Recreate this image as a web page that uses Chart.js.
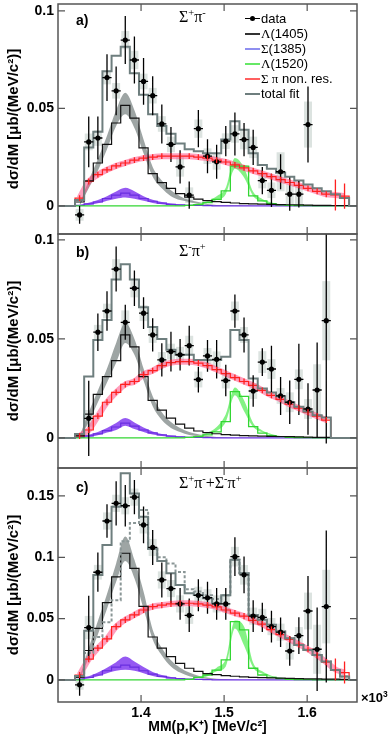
<!DOCTYPE html>
<html>
<head>
<meta charset="utf-8">
<script src="https://cdn.jsdelivr.net/npm/chart.js@4.4.1/dist/chart.umd.min.js"></script>
<style>
  body { margin: 0; width: 391px; height: 738px; position: relative; overflow: hidden; background: #fff;
         font-family: "Liberation Sans", Arial, Helvetica, sans-serif; }
  canvas { position: absolute; left: 0; }
  sup { font-size: 0.65em; line-height: 0; vertical-align: 0.55em; }
  .pl { position: absolute; left: 76px; font-weight: bold; font-size: 14px; line-height: 16px; }
  .ch { position: absolute; left: 179px; font-family: "Liberation Serif", "Times New Roman", serif; font-size: 16px; line-height: 18px; }
  .leg { position: absolute; left: 245px; top: 11px; font-size: 13px; }
  .row { display: flex; align-items: center; height: 15px; white-space: nowrap; }
  .smp { width: 15px; height: 0; border-top: 2px solid; margin-right: 1px; position: relative; }
  .dot { position: absolute; left: 5px; top: -3.5px; width: 5px; height: 5px; border-radius: 50%; background: #000; }
  .g { font-family: "Liberation Serif", "Times New Roman", serif; }
  .x3 { position: absolute; left: 361px; top: 690px; font-weight: bold; font-size: 13px; }
</style>
</head>
<body>
<canvas id="pa" width="391" height="240" style="top:0"></canvas>
<canvas id="pb" width="391" height="246" style="top:228px"></canvas>
<canvas id="pc" width="391" height="276" style="top:462px"></canvas>

<div class="pl" style="top:12px">a)</div>
<div class="pl" style="top:244px">b)</div>
<div class="pl" style="top:479px">c)</div>
<div class="ch" style="top:8px">Σ<sup>+</sup>π<sup>-</sup></div>
<div class="ch" style="top:242px">Σ<sup>-</sup>π<sup>+</sup></div>
<div class="ch" style="top:474px">Σ<sup>+</sup>π<sup>-</sup>+Σ<sup>-</sup>π<sup>+</sup></div>

<div class="leg">
  <div class="row"><span class="smp" style="border-top:1px solid #000"><span class="dot"></span></span>data</div>
  <div class="row"><span class="smp" style="border-color:#333"></span><span class="g">Λ</span>(1405)</div>
  <div class="row"><span class="smp" style="border-color:#8f8ff0"></span><span class="g">Σ</span>(1385)</div>
  <div class="row"><span class="smp" style="border-color:#66e866"></span><span class="g">Λ</span>(1520)</div>
  <div class="row"><span class="smp" style="border-color:#ff6060"></span><span class="g">Σ π</span>&nbsp;non. res.</div>
  <div class="row"><span class="smp" style="border-color:#6e7e7e"></span>total fit</div>
</div>
<div class="x3">×10<sup>3</sup></div>

<script>
const FONT = "'Liberation Sans', Arial, Helvetica, sans-serif";

/* ---------------- DATA ---------------- */

// bin centres, MM(p,K+) in units of 10^3 MeV/c^2
const BINS = [1.326, 1.337, 1.348, 1.359, 1.370, 1.381, 1.392, 1.403, 1.414, 1.425,
  1.436, 1.447, 1.458, 1.469, 1.480, 1.491, 1.502, 1.513, 1.524, 1.535,
  1.546, 1.557, 1.568, 1.579, 1.590, 1.601, 1.612, 1.623, 1.634, 1.645];
const X_TICKS = [1.4, 1.5, 1.6];
const Y_TICKS_AB = [0, 0.05, 0.1];
const Y_TICKS_C = [0, 0.05, 0.1, 0.15];

// a) Sigma+ pi-
const A_DATA = [-0.0046, 0.0328, 0.0348, 0.0658, 0.059, 0.085, 0.0748, 0.0638, 0.0565, 0.042,
  0.0315, 0.020, 0.0055, 0.0396, 0.0255, 0.0226, 0.0332, 0.0369, 0.034, 0.030,
  0.013, 0.008, 0.0175, 0.006, 0.006, 0.0417, null, null, null, null];
const A_ERR = [0.0045, 0.013, 0.011, 0.012, 0.0125, 0.0123, 0.012, 0.012, 0.010, 0.010,
  0.009, 0.0085, 0.007, 0.0095, 0.0087, 0.0087, 0.0077, 0.011, 0.0085, 0.009,
  0.007, 0.0085, 0.009, 0.0085, 0.0068, 0.0195, null, null, null, null];
const A_SYS = [0.003, 0.0043, 0.004, 0.0035, 0.004, 0.0047, 0.0047, 0.004, 0.004, 0.004,
  0.004, 0.005, 0.004, 0.0047, 0.004, 0.004, 0.004, 0.0045, 0.005, 0.0055,
  0.004, 0.004, 0.010, 0.005, 0.005, 0.0118, null, null, null, null];
const A_TOTAL = [0.003, 0.030, 0.038, 0.069, 0.077, 0.0816, 0.068, 0.057, 0.047, 0.041,
  0.037, 0.032, 0.029, 0.028, 0.027, 0.027, 0.034, 0.0434, 0.039, 0.027,
  0.021, 0.019, 0.017, 0.015, 0.013, 0.011, 0.009, 0.0075, 0.006, 0.004];
const A_L1405 = [0.002, 0.0128, 0.022, 0.0315, 0.0425, 0.0515, 0.045, 0.0297, 0.0165, 0.0119,
  0.009, 0.0063, 0.0045, 0.0035, 0.0027, 0.0022, 0.0018, 0.0015, 0.0012, 0.001,
  0.0009, 0.0008, 0.0007, 0.0006, 0.0005, 0.0004, 0.0003, 0.0003, 0.0002, 0.0002];
const A_L1405_LO = [0, 0.009, 0.018, 0.029, 0.041, 0.047, 0.040, 0.027, 0.015, 0.009,
  0.005, 0.003, 0.002, 0.001, 0.0005, 0, 0, 0, 0, 0,
  0, 0, 0, 0, 0, 0, 0, 0, 0, 0];
const A_L1405_HI = [0.001, 0.013, 0.024, 0.036, 0.049, 0.058, 0.049, 0.034, 0.020, 0.013,
  0.008, 0.005, 0.003, 0.002, 0.001, 0.0005, 0.0003, 0.0002, 0.0001, 0,
  0, 0, 0, 0, 0, 0, 0, 0, 0, 0];
const A_NR = [0.004, 0.0125, 0.016, 0.0185, 0.0205, 0.022, 0.0235, 0.0245, 0.025, 0.0255,
  0.0255, 0.0255, 0.0255, 0.025, 0.0245, 0.0235, 0.0225, 0.021, 0.0195, 0.018,
  0.0165, 0.015, 0.0135, 0.012, 0.0105, 0.009, 0.0075, 0.006, 0.0056, 0.005];
const A_NR_ERR = [0.0015, 0.0015, 0.0015, 0.0015, 0.0015, 0.0015, 0.0015, 0.0015, 0.0015, 0.0015,
  0.0015, 0.0015, 0.0015, 0.0015, 0.0015, 0.0015, 0.0015, 0.0015, 0.0015, 0.0015,
  0.0015, 0.0015, 0.0015, 0.0015, 0.0015, 0.0015, 0.0015, 0.0015, 0.008, 0.0065];
const A_S1385 = [0.0003, 0.001, 0.002, 0.0038, 0.0055, 0.0066, 0.0055, 0.0038, 0.0024, 0.0014,
  0.0008, 0.0005, 0.0003, 0.0002, 0.0001, 0, 0, 0, 0, 0,
  0, 0, 0, 0, 0, 0, 0, 0, 0, 0];
const A_S1385_LO = [0, 0.0005, 0.0013, 0.0027, 0.0037, 0.0043, 0.0037, 0.0026, 0.0015, 0.0008,
  0.0004, 0.0002, 0.0001, 0, 0, 0, 0, 0, 0, 0,
  0, 0, 0, 0, 0, 0, 0, 0, 0, 0];
const A_S1385_HI = [0.0005, 0.0016, 0.003, 0.005, 0.0074, 0.0093, 0.0075, 0.005, 0.0032, 0.002,
  0.0012, 0.0007, 0.0004, 0.0002, 0.0001, 0, 0, 0, 0, 0,
  0, 0, 0, 0, 0, 0, 0, 0, 0, 0];
const A_L1520 = [0, 0, 0, 0, 0, 0, 0, 0, 0, 0,
  0, 0, 0.0003, 0.0007, 0.0017, 0.0034, 0.0077, 0.0204, 0.0204, 0.0051,
  0.0026, 0.0012, 0.0006, 0.0003, 0.0002, 0.0001, 0, 0, 0, 0];
const A_L1520_LO = [0, 0, 0, 0, 0, 0, 0, 0, 0, 0,
  0, 0, 0.0002, 0.0007, 0.0015, 0.003, 0.006, 0.019, 0.0145, 0.005,
  0.0024, 0.001, 0.0005, 0.0002, 0.0001, 0, 0, 0, 0, 0];
const A_L1520_HI = [0, 0, 0, 0, 0, 0, 0, 0, 0, 0,
  0.0001, 0.0002, 0.0005, 0.0012, 0.0025, 0.005, 0.0093, 0.0246, 0.0196, 0.0072,
  0.0035, 0.0018, 0.0009, 0.0005, 0.0003, 0.0001, 0, 0, 0, 0];

// b) Sigma- pi+
const B_DATA = [null, 0.0099, 0.0534, 0.0641, 0.0853, 0.0584, 0.0756, 0.063, 0.052, 0.0394,
  0.0436, 0.042, 0.0466, 0.0295, 0.0414, 0.0397, 0.029, 0.0641, 0.052, 0.0237,
  0.0383, 0.0348, 0.0212, 0.018, 0.0296, 0.0146, 0.0242, 0.0592, null, null];
const B_ERR = [null, 0.019, 0.0095, 0.010, 0.0114, 0.0088, 0.009, 0.008, 0.0084, 0.0084,
  0.010, 0.008, 0.010, 0.0065, 0.008, 0.0097, 0.008, 0.0084, 0.0088, 0.008,
  0.007, 0.0117, 0.0096, 0.011, 0.018, 0.013, 0.024, 0.062, null, null];
const B_SYS = [null, 0.0042, 0.0037, 0.0037, 0.005, 0.006, 0.0046, 0.004, 0.004, 0.004,
  0.004, 0.004, 0.005, 0.004, 0.004, 0.004, 0.004, 0.0048, 0.004, 0.004,
  0.0055, 0.005, 0.004, 0.005, 0.005, 0.005, 0.013, 0.02, null, null];
const B_TOTAL = [0.002, 0.031, 0.0495, 0.0596, 0.080, 0.0877, 0.080, 0.066, 0.056, 0.050,
  0.0445, 0.042, 0.042, 0.0394, 0.0394, 0.0394, 0.041, 0.0545, 0.0495, 0.030,
  0.025, 0.023, 0.021, 0.018, 0.0158, 0.0133, 0.0115, 0.0103, null, null];
const B_L1405 = [0.001, 0.012, 0.022, 0.031, 0.039, 0.052, 0.046, 0.031, 0.019, 0.014,
  0.010, 0.007, 0.0049, 0.0035, 0.0027, 0.0021, 0.0017, 0.0014, 0.0012, 0.001,
  0.0009, 0.0008, 0.0007, 0.0006, 0.0005, 0.0004, 0.0003, 0.0003, null, null];
const B_L1405_LO = [0, 0.008, 0.018, 0.028, 0.038, 0.048, 0.042, 0.029, 0.016, 0.009,
  0.005, 0.003, 0.0015, 0.0008, 0.0003, 0, 0, 0, 0, 0,
  0, 0, 0, 0, 0, 0, 0, 0, null, null];
const B_L1405_HI = [0.001, 0.013, 0.024, 0.035, 0.048, 0.058, 0.050, 0.035, 0.021, 0.013,
  0.008, 0.005, 0.003, 0.0018, 0.001, 0.0005, 0.0002, 0, 0, 0,
  0, 0, 0, 0, 0, 0, 0, 0, null, null];
const B_NR = [0.001, 0.004, 0.011, 0.018, 0.023, 0.027, 0.0285, 0.032, 0.034, 0.0365,
  0.038, 0.0385, 0.0385, 0.0378, 0.0365, 0.0345, 0.0325, 0.0305, 0.0285, 0.0265,
  0.024, 0.0215, 0.0195, 0.017, 0.015, 0.013, 0.011, 0.009, null, null];
const B_NR_ERR = [0.0015, 0.0015, 0.0015, 0.0015, 0.0015, 0.0015, 0.0015, 0.0015, 0.0015, 0.0015,
  0.0015, 0.0015, 0.0015, 0.0015, 0.0015, 0.0015, 0.0015, 0.0015, 0.0015, 0.0015,
  0.0015, 0.0015, 0.0015, 0.0015, 0.0015, 0.0015, 0.0015, 0.0015, null, null];
const B_S1385 = [0.0003, 0.001, 0.002, 0.0037, 0.0055, 0.0075, 0.006, 0.004, 0.0025, 0.0015,
  0.0009, 0.0005, 0.0003, 0.0002, 0.0001, 0, 0, 0, 0, 0,
  0, 0, 0, 0, 0, 0, 0, 0, null, null];
const B_S1385_LO = [0, 0.0005, 0.0013, 0.0027, 0.004, 0.0062, 0.0045, 0.003, 0.0017, 0.001,
  0.0005, 0.0002, 0.0001, 0, 0, 0, 0, 0, 0, 0,
  0, 0, 0, 0, 0, 0, 0, 0, null, null];
const B_S1385_HI = [0.0005, 0.0016, 0.003, 0.005, 0.0075, 0.010, 0.0078, 0.0052, 0.0033, 0.002,
  0.0012, 0.0007, 0.0004, 0.0002, 0.0001, 0, 0, 0, 0, 0,
  0, 0, 0, 0, 0, 0, 0, 0, null, null];
const B_L1520 = [0, 0, 0, 0, 0, 0, 0, 0, 0, 0,
  0, 0, 0.0003, 0.0006, 0.0015, 0.003, 0.0082, 0.0234, 0.021, 0.0057,
  0.0024, 0.0012, 0.0006, 0.0003, 0.0002, 0.0001, 0, 0, null, null];
const B_L1520_LO = [0, 0, 0, 0, 0, 0, 0, 0, 0, 0,
  0, 0, 0.0002, 0.0008, 0.0017, 0.0035, 0.008, 0.0215, 0.0135, 0.0055,
  0.0028, 0.0012, 0.0006, 0.0003, 0.0001, 0, 0, 0, null, null];
const B_L1520_HI = [0, 0, 0, 0, 0, 0, 0, 0, 0, 0,
  0.0001, 0.0002, 0.0005, 0.0012, 0.0027, 0.0055, 0.012, 0.0255, 0.019, 0.0075,
  0.0038, 0.002, 0.001, 0.0005, 0.0003, 0.0001, 0, 0, null, null];

// c) Sigma+ pi- + Sigma- pi+
const C_DATA = [-0.004, 0.0427, 0.0878, 0.1296, 0.144, 0.142, 0.149, 0.1264, 0.108, 0.0815,
  0.0745, 0.062, 0.0527, 0.069, 0.067, 0.062, 0.062, 0.1005, 0.0857, 0.052,
  0.051, 0.0435, 0.0389, 0.0236, 0.0361, 0.0562, 0.025, 0.0598, null, null];
const C_ERR = [0.009, 0.026, 0.016, 0.0136, 0.018, 0.017, 0.014, 0.015, 0.0143, 0.0143,
  0.0122, 0.013, 0.0136, 0.013, 0.013, 0.013, 0.013, 0.0158, 0.015, 0.013,
  0.012, 0.013, 0.012, 0.012, 0.015, 0.0285, 0.034, 0.062, null, null];
const C_SYS = [0.004, 0.0095, 0.006, 0.007, 0.007, 0.007, 0.007, 0.007, 0.007, 0.007,
  0.007, 0.007, 0.007, 0.007, 0.007, 0.007, 0.007, 0.008, 0.008, 0.007,
  0.007, 0.007, 0.007, 0.007, 0.007, 0.015, 0.02, 0.03, null, null];
const C_TOTAL = [0.0033, 0.040, 0.0856, 0.110, 0.1413, 0.1685, 0.152, 0.133, 0.107, 0.097,
  0.087, 0.0775, 0.0707, 0.0693, 0.0666, 0.0625, 0.069, 0.098, 0.087, 0.053,
  0.049, 0.045, 0.0394, 0.034, 0.0285, 0.0245, 0.0204, 0.015, 0.008, 0.0027];
const C_DASHED = [0.003, 0.022, 0.035, 0.047, 0.065, 0.113, 0.128, 0.1386, 0.107, 0.100,
  0.095, 0.088, 0.074, 0.072, 0.069, 0.066, 0.069, 0.098, 0.087, 0.053,
  0.049, 0.045, 0.0394, 0.034, 0.0285, 0.0245, 0.0204, 0.015, 0.008, 0.0027];
const C_L1405 = [0.002, 0.024, 0.042, 0.063, 0.084, 0.1033, 0.091, 0.060, 0.035, 0.026,
  0.019, 0.0135, 0.0095, 0.007, 0.0052, 0.0043, 0.0035, 0.003, 0.0025, 0.002,
  0.0018, 0.0016, 0.0014, 0.0012, 0.001, 0.0009, 0.0008, 0.0007, 0.0006, 0.0005];
const C_L1405_LO = [0, 0.018, 0.037, 0.058, 0.080, 0.097, 0.083, 0.058, 0.033, 0.020,
  0.011, 0.006, 0.003, 0.0015, 0.0008, 0.0003, 0, 0, 0, 0,
  0, 0, 0, 0, 0, 0, 0, 0, 0, 0];
const C_L1405_HI = [0.002, 0.026, 0.048, 0.070, 0.095, 0.117, 0.098, 0.072, 0.041, 0.026,
  0.016, 0.010, 0.006, 0.0035, 0.002, 0.001, 0.0005, 0.0002, 0, 0,
  0, 0, 0, 0, 0, 0, 0, 0, 0, 0];
const C_NR = [0.004, 0.017, 0.026, 0.0335, 0.0435, 0.049, 0.053, 0.057, 0.0598, 0.061,
  0.062, 0.0625, 0.0625, 0.062, 0.061, 0.0595, 0.057, 0.0545, 0.052, 0.0485,
  0.0455, 0.041, 0.037, 0.033, 0.029, 0.025, 0.020, 0.0145, 0.0085, 0.006];
const C_NR_ERR = [0.0025, 0.0025, 0.0025, 0.0025, 0.0025, 0.0025, 0.0025, 0.0025, 0.0025, 0.0025,
  0.0025, 0.0025, 0.0025, 0.0025, 0.0025, 0.0025, 0.0025, 0.0025, 0.0025, 0.0025,
  0.0025, 0.0025, 0.0025, 0.0025, 0.0025, 0.0025, 0.0025, 0.0025, 0.009, 0.009];
const C_S1385 = [0.0005, 0.002, 0.004, 0.0075, 0.0105, 0.012, 0.0105, 0.0075, 0.0048, 0.0029,
  0.0017, 0.001, 0.0006, 0.0004, 0.0002, 0.0001, 0, 0, 0, 0,
  0, 0, 0, 0, 0, 0, 0, 0, 0, 0];
const C_S1385_LO = [0, 0.0012, 0.003, 0.0055, 0.0075, 0.0082, 0.0075, 0.0055, 0.0033, 0.002,
  0.001, 0.0005, 0.0002, 0.0001, 0, 0, 0, 0, 0, 0,
  0, 0, 0, 0, 0, 0, 0, 0, 0, 0];
const C_S1385_HI = [0.001, 0.003, 0.006, 0.010, 0.0145, 0.019, 0.015, 0.0105, 0.0065, 0.004,
  0.0024, 0.0014, 0.0008, 0.0004, 0.0002, 0.0001, 0, 0, 0, 0,
  0, 0, 0, 0, 0, 0, 0, 0, 0, 0];
const C_L1520 = [0, 0, 0, 0, 0, 0, 0, 0, 0, 0,
  0, 0, 0.0005, 0.002, 0.004, 0.008, 0.0163, 0.0476, 0.0408, 0.0095,
  0.004, 0.002, 0.001, 0.0005, 0.0003, 0.0002, 0.0001, 0, 0, 0];
const C_L1520_LO = [0, 0, 0, 0, 0, 0, 0, 0, 0, 0,
  0, 0.0001, 0.0004, 0.0015, 0.003, 0.007, 0.011, 0.042, 0.028, 0.010,
  0.005, 0.0025, 0.0012, 0.0006, 0.0003, 0.0001, 0, 0, 0, 0];
const C_L1520_HI = [0, 0, 0, 0, 0, 0, 0, 0, 0, 0,
  0.0001, 0.0003, 0.0008, 0.0025, 0.005, 0.010, 0.017, 0.0485, 0.0435, 0.014,
  0.007, 0.0035, 0.002, 0.001, 0.0005, 0.0002, 0.0001, 0, 0, 0];

/* ---------------- STYLE ---------------- */

const X_MIN = 1.3, X_MAX = 1.66;
const HALF = 0.0055;       // half bin width
const SYS_HALF = 0.0048;   // half width of systematic boxes
const TICK = 7;            // inward tick length, px

const COL = {
  total: "#6e7e7e",
  dashed: "#8a9696",
  l1405: "#111111",
  l1405Band: "rgba(125,135,133,0.75)",
  nr: "#ff2020",
  nrBand: "rgba(255,80,135,0.55)",
  s1385: "#6a2fe0",
  s1385Band: "rgba(130,60,240,0.85)",
  l1520: "#33d633",
  l1520Band: "rgba(110,240,110,0.85)",
  sys: "#dce3e0",
  frame: "#555"
};

/* ---------------- HELPERS ---------------- */

function pts(vals) {
  return BINS.map((x, i) => ({ x, y: vals[i] })).filter(p => p.y != null);
}

// histogram drawn as a step line over bin edges
function stepLine(vals, color, width, order, dash, extend) {
  let last = vals.length - 1;
  while (vals[last] == null) last--;
  const data = [];
  if (extend) data.push({ x: X_MIN, y: 0 });
  data.push({ x: BINS[0] - HALF, y: 0 });
  for (let i = 0; i <= last; i++) data.push({ x: BINS[i] - HALF, y: vals[i] });
  data.push({ x: BINS[last] + HALF, y: vals[last] });
  data.push({ x: BINS[last] + HALF, y: 0 });
  if (extend) data.push({ x: X_MAX, y: 0 });
  return { data, stepped: true, borderColor: color, borderWidth: width, borderDash: dash || [],
           pointRadius: 0, fill: false, order };
}

function band(lo, hi, color, order) {
  return [
    { data: pts(lo), borderColor: "transparent", borderWidth: 0, pointRadius: 0, fill: false,
      cubicInterpolationMode: "monotone", order },
    { data: pts(hi), borderColor: "transparent", borderWidth: 0, pointRadius: 0, fill: "-1",
      backgroundColor: color, cubicInterpolationMode: "monotone", order }
  ];
}

function dataPoints(vals, errs, sys) {
  return {
    data: BINS.map((x, i) => ({ x, y: vals[i], e: errs[i], s: sys[i] })).filter(p => p.y != null),
    showLine: false, pointRadius: 2.6, pointBackgroundColor: "#000", pointBorderWidth: 0,
    errBars: true, hBar: HALF, errColor: "#000", errWidth: 1.3, sysBoxes: true, order: 0
  };
}

function errTicks(vals, errs, color) {
  return {
    data: BINS.map((x, i) => ({ x, y: vals[i], e: errs[i] })).filter(p => p.y != null),
    showLine: false, pointRadius: 0, errBars: true, errColor: color, errWidth: 1.3, order: 3
  };
}

/* ---------------- PLUGINS ---------------- */

const errorBarPlugin = {
  id: "errorBars",
  beforeDatasetsDraw(chart) {
    const { ctx, chartArea: a, scales: { x, y } } = chart;
    ctx.save();
    ctx.beginPath(); ctx.rect(a.left, a.top, a.width, a.height); ctx.clip();
    ctx.fillStyle = COL.sys;
    chart.data.datasets.forEach(ds => {
      if (!ds.sysBoxes) return;
      ds.data.forEach(p => {
        if (p.s == null) return;
        const x0 = x.getPixelForValue(p.x - SYS_HALF), x1 = x.getPixelForValue(p.x + SYS_HALF);
        const y0 = y.getPixelForValue(p.y + p.s), y1 = y.getPixelForValue(p.y - p.s);
        ctx.fillRect(x0, y0, x1 - x0, y1 - y0);
      });
    });
    ctx.restore();
  },
  afterDatasetsDraw(chart) {
    const { ctx, chartArea: a, scales: { x, y } } = chart;
    ctx.save();
    ctx.beginPath(); ctx.rect(a.left, a.top, a.width, a.height); ctx.clip();
    chart.data.datasets.forEach(ds => {
      if (!ds.errBars) return;
      ctx.strokeStyle = ds.errColor;
      ctx.lineWidth = ds.errWidth;
      ctx.beginPath();
      ds.data.forEach(p => {
        if (p.e == null) return;
        const px = x.getPixelForValue(p.x);
        ctx.moveTo(px, y.getPixelForValue(p.y + p.e));
        ctx.lineTo(px, y.getPixelForValue(p.y - p.e));
        if (ds.hBar) {
          const py = y.getPixelForValue(p.y);
          ctx.moveTo(x.getPixelForValue(p.x - ds.hBar), py);
          ctx.lineTo(x.getPixelForValue(p.x + ds.hBar), py);
        }
      });
      ctx.stroke();
    });
    ctx.restore();
  }
};

const framePlugin = {
  id: "frame",
  afterDraw(chart, args, opts) {
    const { ctx, chartArea: a, scales: { x, y } } = chart;
    ctx.save();
    ctx.strokeStyle = COL.frame;
    ctx.lineWidth = 1.5;
    ctx.strokeRect(a.left, a.top, a.right - a.left, a.bottom - a.top);
    ctx.lineWidth = 1.2;
    ctx.beginPath();
    X_TICKS.forEach(v => {
      const px = x.getPixelForValue(v);
      ctx.moveTo(px, a.top); ctx.lineTo(px, a.top + TICK);
      ctx.moveTo(px, a.bottom); ctx.lineTo(px, a.bottom - TICK);
    });
    opts.yTicks.forEach(v => {
      const py = y.getPixelForValue(v);
      ctx.moveTo(a.left, py); ctx.lineTo(a.left + TICK, py);
      ctx.moveTo(a.right, py); ctx.lineTo(a.right - TICK, py);
    });
    ctx.stroke();
    ctx.restore();
  }
};

/* ---------------- PANELS ---------------- */

function makePanel(canvasId, p) {
  const datasets = [
    dataPoints(p.data, p.err, p.sys),
    stepLine(p.total, COL.total, 2, 1, null, true),
    stepLine(p.l1405, COL.l1405, 1.2, 2),
    stepLine(p.nr, COL.nr, 1.2, 3),
    errTicks(p.nr, p.nrErr, COL.nr),
    stepLine(p.l1520, COL.l1520, 1.3, 3),
    stepLine(p.s1385, COL.s1385, 1.2, 4),
    { data: pts(p.nr), borderColor: COL.nrBand, borderWidth: 6, pointRadius: 0, fill: false,
      cubicInterpolationMode: "monotone", order: 5 },
    ...band(p.l1520Lo, p.l1520Hi, COL.l1520Band, 6),
    ...band(p.s1385Lo, p.s1385Hi, COL.s1385Band, 6),
    ...band(p.l1405Lo, p.l1405Hi, COL.l1405Band, 7)
  ];
  if (p.dashed) datasets.push(stepLine(p.dashed, COL.dashed, 2, 1, [3, 2], false));

  const bold = size => ({ family: FONT, weight: "bold", size });

  new Chart(document.getElementById(canvasId), {
    type: "line",
    data: { datasets },
    plugins: [errorBarPlugin, framePlugin],
    options: {
      responsive: false,
      animation: false,
      devicePixelRatio: 1,
      events: [],
      layout: { padding: p.padding },
      plugins: {
        legend: { display: false },
        tooltip: { enabled: false },
        frame: { yTicks: p.yTicks }
      },
      scales: {
        x: {
          type: "linear",
          min: X_MIN,
          max: X_MAX,
          display: p.showX,
          afterFit: s => { s.height = p.showX ? 36 : 0; s.paddingLeft = 0; s.paddingRight = 0; },
          afterBuildTicks: s => { s.ticks = X_TICKS.map(v => ({ value: v })); },
          grid: { display: false, drawTicks: false },
          border: { display: false },
          ticks: { color: "#000", font: bold(14), padding: 3, callback: v => v.toFixed(1), maxRotation: 0 },
          title: { display: true, text: "MM(p,K⁺) [MeV/c²]", color: "#000", font: bold(14),
                   padding: { top: 0, bottom: 2 } }
        },
        y: {
          min: p.yMin,
          max: p.yMax,
          afterFit: s => { s.width = 58; s.paddingTop = 0; s.paddingBottom = 0; },
          afterBuildTicks: s => { s.ticks = p.yTicks.map(v => ({ value: v })); },
          grid: { display: false, drawTicks: false },
          border: { display: false },
          ticks: { color: "#000", font: bold(14), padding: 4, callback: v => String(v) },
          title: { display: true, text: "dσ/dM [μb/(MeV/c²)]", color: "#000", font: bold(15),
                   padding: { top: 5, bottom: 0 } }
        }
      }
    }
  });
}

makePanel("pa", {
  data: A_DATA, err: A_ERR, sys: A_SYS, total: A_TOTAL,
  l1405: A_L1405, l1405Lo: A_L1405_LO, l1405Hi: A_L1405_HI,
  nr: A_NR, nrErr: A_NR_ERR,
  s1385: A_S1385, s1385Lo: A_S1385_LO, s1385Hi: A_S1385_HI,
  l1520: A_L1520, l1520Lo: A_L1520_LO, l1520Hi: A_L1520_HI,
  yMin: -0.0144, yMax: 0.1035, yTicks: Y_TICKS_AB, showX: false,
  padding: { top: 1, right: 34, bottom: 6, left: 0 }
});

makePanel("pb", {
  data: B_DATA, err: B_ERR, sys: B_SYS, total: B_TOTAL,
  l1405: B_L1405, l1405Lo: B_L1405_LO, l1405Hi: B_L1405_HI,
  nr: B_NR, nrErr: B_NR_ERR,
  s1385: B_S1385, s1385Lo: B_S1385_LO, s1385Hi: B_S1385_HI,
  l1520: B_L1520, l1520Lo: B_L1520_LO, l1520Hi: B_L1520_HI,
  yMin: -0.0152, yMax: 0.103, yTicks: Y_TICKS_AB, showX: false,
  padding: { top: 6, right: 34, bottom: 6, left: 0 }
});

makePanel("pc", {
  data: C_DATA, err: C_ERR, sys: C_SYS, total: C_TOTAL, dashed: C_DASHED,
  l1405: C_L1405, l1405Lo: C_L1405_LO, l1405Hi: C_L1405_HI,
  nr: C_NR, nrErr: C_NR_ERR,
  s1385: C_S1385, s1385Lo: C_S1385_LO, s1385Hi: C_S1385_HI,
  l1520: C_L1520, l1520Lo: C_L1520_LO, l1520Hi: C_L1520_HI,
  yMin: -0.018, yMax: 0.1728, yTicks: Y_TICKS_C, showX: true,
  padding: { top: 6, right: 34, bottom: 0, left: 0 }
});
</script>
</body>
</html>
